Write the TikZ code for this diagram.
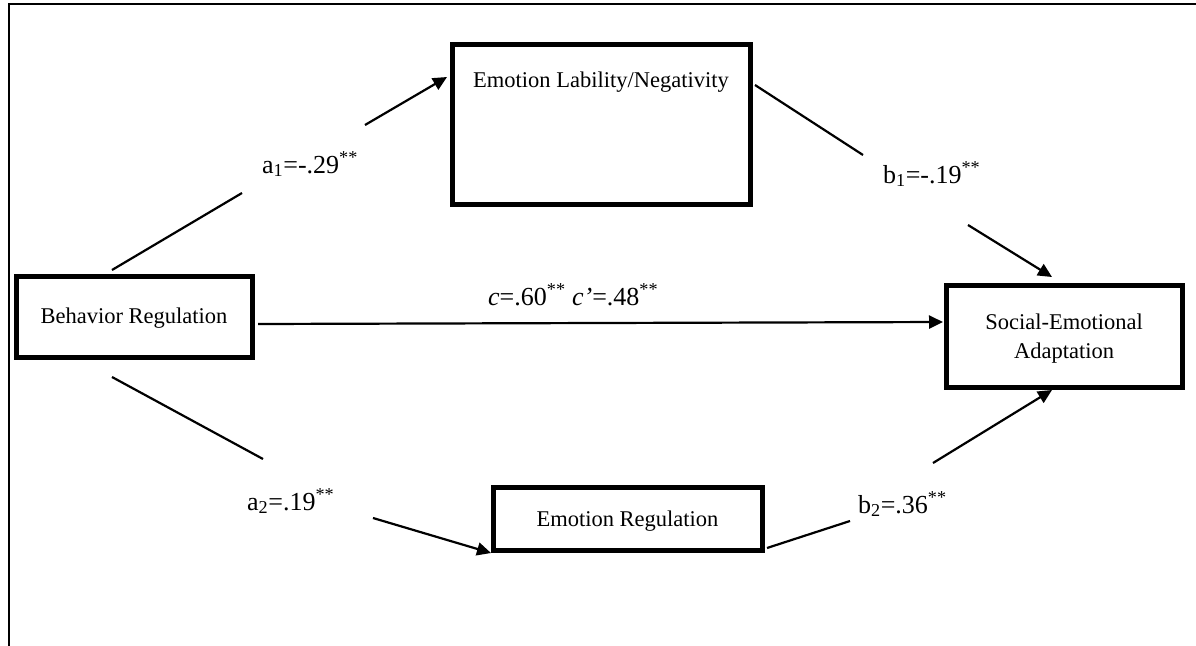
\documentclass[tikz,border=0pt]{standalone}
\usepackage{fontspec}
\setmainfont{Liberation Serif}
\usetikzlibrary{arrows.meta}
\begin{document}
\begin{tikzpicture}[x=1pt,y=-1pt,
  box/.style={draw, line width=5pt, inner sep=0pt},
  conn/.style={line width=2.2pt},
  arr/.style={line width=2.2pt, -{Triangle[length=14pt,width=13pt]}},
  boxtext/.style={font=\fontsize{22.5}{29}\selectfont, inner sep=0pt, align=center, anchor=base},
  lab/.style={font=\fontsize{26}{30}\selectfont, inner sep=0pt, anchor=base west},
  frameline/.style={line width=2.5pt}]
\useasboundingbox (0,0) rectangle (1196,645);
% frame
\coordinate (ftr) at (1200,4);
\coordinate (ftl) at (9,4);
\coordinate (fbl) at (9,650);
\draw[frameline] (ftr) -- (ftl) -- (fbl);
% boxes
\node[box, minimum width=236pt, minimum height=81pt] (br) at (134,316.5) {};
\node[boxtext] (brt) at (134,323) {Behavior Regulation};
\node[box, minimum width=298pt, minimum height=160pt] (elb) at (601,124) {};
\node[boxtext] (elbt) at (601,87) {Emotion Lability/Negativity};
\node[box, minimum width=236pt, minimum height=102pt] (sea) at (1064,336) {};
\node[boxtext, anchor=center] (seat) at (1064,339) {Social-Emotional\\Adaptation};
\node[box, minimum width=269pt, minimum height=63pt] (er) at (627.5,518.5) {};
\node[boxtext] (ert) at (627.5,526) {Emotion Regulation};
% connector points
\coordinate (a1s) at (112,270); \coordinate (a1m) at (242,193);
\coordinate (a1n) at (365,125); \coordinate (a1e) at (447,77);
\coordinate (b1s) at (755,85);  \coordinate (b1m) at (863,155);
\coordinate (b1n) at (968,225); \coordinate (b1e) at (1052,277);
\coordinate (cs) at (258,324);  \coordinate (ce) at (943,322);
\coordinate (a2s) at (112,377); \coordinate (a2m) at (263,459);
\coordinate (a2n) at (373,518); \coordinate (a2e) at (491,553);
\coordinate (b2s) at (767,548); \coordinate (b2m) at (850,521);
\coordinate (b2n) at (933,463); \coordinate (b2e) at (1052,390);
% connectors
\draw[conn] (a1s) -- (a1m);
\draw[arr] (a1n) -- (a1e);
\draw[conn] (b1s) -- (b1m);
\draw[arr] (b1n) -- (b1e);
\draw[arr] (cs) -- (ce);
\draw[conn] (a2s) -- (a2m);
\draw[arr] (a2n) -- (a2e);
\draw[conn] (b2s) -- (b2m);
\draw[arr] (b2n) -- (b2e);
% labels
\node[lab] (la1) at (262,173) {a\textsubscript{1}=-.29\textsuperscript{**}};
\node[lab] (lb1) at (883,183) {b\textsubscript{1}=-.19\textsuperscript{**}};
\node[lab] (lc) at (488,305) {{\itshape c}=.60\textsuperscript{**} {\itshape c’}=.48\textsuperscript{**}};
\node[lab] (la2) at (247,510) {a\textsubscript{2}=.19\textsuperscript{**}};
\node[lab] (lb2) at (858,513) {b\textsubscript{2}=.36\textsuperscript{**}};
\end{tikzpicture}
\end{document}
